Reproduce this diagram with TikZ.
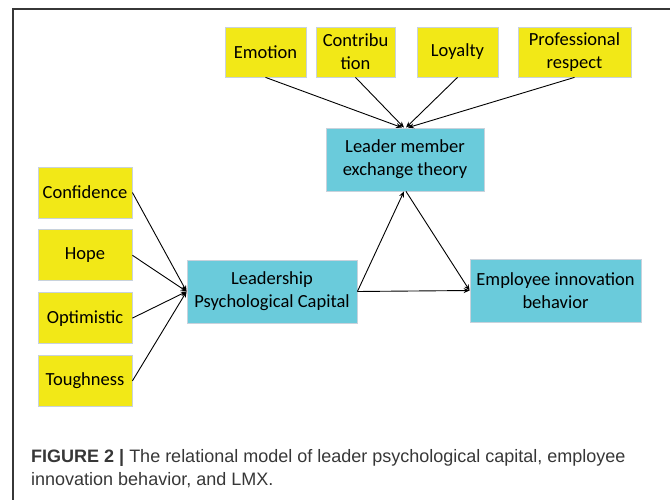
\documentclass[tikz,border=0pt]{standalone}
\usepackage{fontspec}
\setmainfont{Carlito}
\newfontfamily\capfont{Liberation Sans}
\usepackage{tikz}
\usetikzlibrary{arrows.meta,positioning}

\definecolor{boxyellow}{RGB}{242,232,23}
\definecolor{boxcyan}{RGB}{106,203,219}
\definecolor{edgegray}{RGB}{200,210,220}
\definecolor{capgray}{RGB}{55,55,55}

\begin{document}
\begin{tikzpicture}[
    x=1pt, y=-1pt,
    node distance=11pt,
    factor/.style={rectangle, draw=edgegray, line width=0.8pt, fill=boxyellow, align=center,
        inner sep=0pt, minimum height=50pt, font=\fontsize{18.5}{23}\selectfont},
    core/.style={rectangle, draw=edgegray, line width=0.8pt, fill=boxcyan, align=center,
        inner sep=0pt, minimum height=63pt, font=\fontsize{18.5}{23}\selectfont},
    arrow/.style={-{Stealth[length=6pt,width=5pt]}, line width=0.9pt}
]
    \useasboundingbox (0,0) rectangle (670,500);
    % frame
    \draw[capgray, line width=1.2pt] (13,500) -- (13,9) -- (670,9);

    % LMX dimensions
    \node[factor, minimum width=81pt] (emotion) at (265.5,52) {Emotion};
    \node[factor, minimum width=79pt] (contribution) at (355.5,52) {Contribu\\tion};
    \node[factor, minimum width=81pt] (loyalty) at (457.5,52) {Loyalty};
    \node[factor, minimum width=113pt] (respect) at (574.5,52) {Professional\\respect};

    % psychological capital dimensions
    \node[factor, minimum width=94pt, minimum height=51pt] (confidence) at (85,192.5) {Confidence};
    \node[factor, minimum width=94pt, minimum height=51pt, below=of confidence] (hope) {Hope};
    \node[factor, minimum width=94pt, minimum height=51pt, below=of hope] (optimistic) {Optimistic};
    \node[factor, minimum width=94pt, minimum height=51pt, below=of optimistic] (toughness) {Toughness};

    % main constructs
    \node[core, minimum width=158pt] (lmx) at (405,159.5) {Leader member\\exchange theory};
    \node[core, minimum width=170pt] (leadpc) at (272,291.5) {Leadership\\Psychological Capital};
    \node[core, minimum width=171pt] (innov) at (555.5,290.5) {Employee innovation\\behavior};

    \draw[arrow] (emotion.south) -- ([xshift=-3pt]lmx.north);
    \draw[arrow] (contribution.south) -- ([xshift=-1pt]lmx.north);
    \draw[arrow] (loyalty.south) -- ([xshift=1pt]lmx.north);
    \draw[arrow] (respect.south) -- ([xshift=3pt]lmx.north);

    \draw[arrow] (confidence.east) -- (leadpc.west);
    \draw[arrow] (hope.east) -- (leadpc.west);
    \draw[arrow] (optimistic.east) -- (leadpc.west);
    \draw[arrow] (toughness.east) -- (leadpc.west);

    \draw[arrow] (leadpc.east) -- ([xshift=-1pt]lmx.south);
    \draw[arrow] ([xshift=1pt]lmx.south) -- (innov.west);
    \draw[arrow] (leadpc.east) -- (innov.west);

    % caption
    \node[anchor=base west, align=left, inner sep=0pt, text=capgray,
        font=\capfont\fontsize{18}{22.5}\selectfont] (caption) at (31,485)
        {\textbf{FIGURE 2 |} The relational model of leader psychological capital, employee\\
         innovation behavior, and LMX.};
\end{tikzpicture}
\end{document}
